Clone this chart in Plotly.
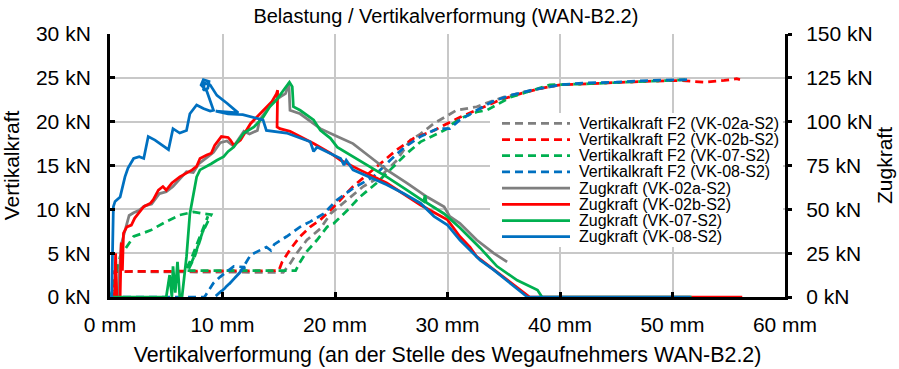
import plotly.graph_objects as go

# ---------------- data ----------------
# Vertikalkraft F2 (left axis, kN) over Vertikalverformung (mm)
f2_02a_x = [0, 0.4, 0.5, 15.4, 16.0, 16.6, 17.5, 18.7, 19.6, 21.1, 22.5, 24.0, 25.5, 26.7, 27.6, 28.8, 30.2, 30.8, 32.6, 33.4, 35.0, 36.5, 38.3, 40.0]
f2_02a_y = [0, 0, 2.9, 2.8, 3.8, 5.0, 6.5, 7.8, 9.5, 11.1, 12.6, 13.7, 15.6, 17.9, 18.6, 19.8, 20.9, 21.3, 21.7, 22.1, 22.8, 23.3, 23.8, 24.2]

f2_02b_x = [0, 0.3, 0.4, 15.0, 15.3, 16.0, 16.9, 17.8, 18.7, 19.9, 21.6, 23.4, 25.5, 27.0, 28.8, 30.0, 31.1, 32.9, 34.7, 36.5, 38.3, 40.0, 41.8, 44.8, 47.7, 50.7, 52.8, 54.6, 55.7, 56.0]
f2_02b_y = [0, 0, 2.9, 3.0, 4.0, 5.4, 6.9, 8.0, 8.8, 10.3, 12.6, 14.5, 16.8, 18.1, 19.0, 19.8, 20.5, 21.5, 22.5, 23.2, 23.8, 24.2, 24.3, 24.4, 24.6, 24.7, 24.5, 24.7, 24.9, 24.8]

f2_07_x = [0, 0.3, 0.9, 2.1, 3.6, 5.0, 6.2, 7.4, 8.3, 9.0, 8.2, 7.6, 7.0, 7.5, 8.7, 7.9, 7.2, 6.7, 16.5, 16.9, 17.5, 18.4, 19.3, 19.9, 21.1, 22.2, 23.7, 24.9, 26.4, 27.6, 29.1, 30.0, 30.5, 31.4, 32.6, 33.5, 35.6, 37.6, 39.1, 42.0, 46.0, 50.0, 51.5]
f2_07_y = [0, 1.0, 4.6, 6.9, 7.6, 8.6, 9.35, 9.7, 9.5, 9.4, 7.3, 5.0, 3.2, 4.5, 9.2, 6.5, 4.3, 3.0, 3.0, 4.0, 5.2, 6.5, 8.0, 8.4, 9.9, 11.4, 13.0, 14.5, 16.4, 17.7, 18.6, 19.2, 19.8, 20.5, 21.1, 21.3, 22.8, 23.6, 24.2, 24.3, 24.5, 24.7, 24.8]

f2_08_x = [0, 8.4, 9.2, 9.8, 11.0, 12.0, 10.6, 9.4, 10.4, 11.6, 12.5, 13.9, 14.3, 14.6, 15.7, 16.9, 17.8, 19.0, 19.6, 20.2, 21.6, 23.4, 24.9, 26.1, 27.6, 29.1, 30.2, 31.1, 32.6, 34.0, 35.6, 37.5, 40.0, 42.0, 45.0, 48.0, 51.6]
f2_08_y = [0, 0, 1.6, 2.3, 3.5, 3.4, 1.5, 0.1, 1.2, 2.9, 4.8, 5.7, 5.3, 6.0, 6.9, 8.0, 8.6, 9.5, 10.3, 11.1, 12.4, 13.7, 15.6, 17.0, 18.3, 19.2, 19.2, 20.2, 21.3, 22.3, 23.0, 23.6, 24.2, 24.4, 24.5, 24.7, 24.8]

# Zugkraft (right axis, kN) over Vertikalverformung (mm)
z_02a_x = [0, 0.7, 1.0, 1.3, 1.7, 2.1, 2.6, 3.1, 3.7, 4.4, 5.0, 5.6, 6.2, 6.8, 7.4, 7.9, 8.6, 9.2, 9.8, 10.4, 11.0, 11.9, 12.4, 13.1, 13.3, 13.9, 14.4, 15.1, 15.6, 15.9, 16.0, 16.9, 18.1, 18.7, 20.2, 21.6, 23.1, 24.6, 26.4, 28.2, 29.7, 30.2, 31.1, 32.6, 34.1, 35.3]
z_02a_y = [0, 0, 30, 37.5, 46.5, 48, 49.5, 52, 53, 59, 60, 63, 67, 71.5, 71, 76, 79.5, 82.5, 88, 89, 86, 94.5, 93, 95, 101, 106.5, 110.5, 114, 116, 122, 106.5, 104.5, 99, 96, 91.5, 87.5, 80, 72.5, 65, 57, 51.5, 46, 42, 32.5, 25, 20]

z_02b_x = [0, 0.4, 0.5, 0.6, 0.9, 1.0, 1.1, 1.2, 1.5, 1.9, 2.2, 2.7, 3.0, 3.6, 3.85, 4.3, 4.7, 5.0, 5.5, 6.2, 6.8, 7.3, 7.7, 8.0, 8.6, 9.0, 9.3, 9.9, 10.5, 10.7, 11.0, 11.6, 12.5, 13.2, 13.8, 14.4, 14.8, 14.9, 14.85, 15.1, 16.0, 16.9, 18.1, 19.6, 20.5, 22.2, 24.6, 27.6, 30.0, 31.1, 32.0, 32.6, 34.1, 35.6, 37.3, 56.2]
z_02b_y = [0, 0, 25, 0, 0, 31, 15, 36.5, 40, 41, 45, 49.5, 51.5, 53.5, 55.5, 61, 63, 61, 65, 68.5, 70.5, 72.5, 74.5, 79, 81, 82, 86.5, 91.5, 91, 89.5, 86.5, 89.5, 99, 103.5, 107.5, 111.5, 116, 118, 97, 96, 94.5, 91.5, 87.5, 82, 78, 72.5, 65, 52.5, 44, 34.5, 28.5, 23, 15.5, 8, 0, 0]

z_07_x = [0, 5.0, 5.3, 5.5, 5.6, 5.8, 6.0, 6.2, 6.4, 6.8, 7.1, 7.4, 7.7, 8.0, 8.6, 9.0, 9.5, 10.1, 10.5, 11.0, 11.9, 12.8, 13.6, 14.2, 14.8, 15.4, 15.95, 16.2, 16.3, 16.9, 18.1, 18.7, 19.6, 20.2, 21.6, 23.1, 24.6, 26.4, 27.9, 28.0, 28.1, 29.7, 31.1, 32.9, 34.4, 36.2, 38.0, 38.4, 51.7]
z_07_y = [0, 0, 12.5, 0, 17.5, 2.5, 20, 0, 0, 23, 47.5, 59, 68.5, 72.5, 74.5, 76, 78, 80, 83, 85.5, 93.5, 97, 102.5, 108.5, 112.5, 118, 122.5, 120, 108.5, 106.5, 101, 95, 90.5, 85.5, 80, 74.5, 68.5, 61, 54.5, 58, 54, 47.5, 39.5, 28, 17.5, 9.5, 4, 0, 0]

z_08_x = [0, 0.15, 0.3, 0.45, 0.9, 1.33, 1.6, 2.1, 2.6, 3.0, 3.4, 4.0, 5.2, 5.6, 6.2, 6.8, 7.1, 7.7, 8.3, 8.9, 9.2, 8.6, 8.1, 8.3, 8.8, 8.7, 8.3, 8.4, 8.9, 9.5, 10.4, 11.4, 9.4, 10.5, 11.8, 12.5, 13.6, 13.9, 15.7, 17.8, 18.1, 18.4, 19.6, 20.5, 20.8, 21.0, 21.6, 23.4, 24.6, 26.1, 27.6, 28.8, 30.0, 31.1, 32.9, 34.1, 35.6, 37.1, 51.6]
z_08_y = [0, 0, 51.5, 54.5, 57, 68.5, 73.5, 79, 80, 79, 91.5, 89.5, 84, 96, 93.5, 95, 104.5, 109.5, 107.5, 106, 106.5, 117.5, 121, 124, 123, 119, 118, 122, 121, 115, 110.5, 105, 106, 104.5, 104, 103, 101, 95, 93.5, 88.5, 83, 85.5, 82, 79, 75.25, 78, 72.5, 67.5, 64, 59, 53.5, 46, 41, 32.5, 21, 15.5, 7.8, 0, 0]

names = ["Vertikalkraft F2 (VK-02a-S2)", "Vertikalkraft F2 (VK-02b-S2)",
         "Vertikalkraft F2 (VK-07-S2)", "Vertikalkraft F2 (VK-08-S2)",
         "Zugkraft (VK-02a-S2)", "Zugkraft (VK-02b-S2)",
         "Zugkraft (VK-07-S2)", "Zugkraft (VK-08-S2)"]
xs = [f2_02a_x, f2_02b_x, f2_07_x, f2_08_x, z_02a_x, z_02b_x, z_07_x, z_08_x]
ys = [f2_02a_y, f2_02b_y, f2_07_y, f2_08_y, z_02a_y, z_02b_y, z_07_y, z_08_y]

x_ticks = [0, 10, 20, 30, 40, 50, 60]
x_labels = ["0 mm", "10 mm", "20 mm", "30 mm", "40 mm", "50 mm", "60 mm"]
y_ticks = [0, 5, 10, 15, 20, 25, 30]
y_labels = ["0 kN", "5 kN", "10 kN", "15 kN", "20 kN", "25 kN", "30 kN"]
y2_ticks = [0, 25, 50, 75, 100, 125, 150]
y2_labels = ["0 kN", "25 kN", "50 kN", "75 kN", "100 kN", "125 kN", "150 kN"]

# ---------------- styling ----------------
colors = ["#7F7F7F", "#FF0000", "#00B050", "#0070C0"] * 2
dashes = ["8px,5px"] * 4 + ["solid"] * 4
axes = ["y"] * 4 + ["y2"] * 4
FONT = "Liberation Sans, Arial, sans-serif"

W, H = 899, 369
ML, MR, MT, MB = 110, 114, 34, 72
PW, PH = W - ML - MR, H - MT - MB


def px(xp):
    return (xp - ML) / PW


def py(yp):
    return (H - MB - yp) / PH


fig = go.Figure()
for i in range(8):
    fig.add_trace(go.Scatter(
        x=xs[i], y=ys[i], name=names[i], mode="lines", yaxis=axes[i],
        line=dict(color=colors[i], width=2.75, dash=dashes[i]),
        showlegend=False,
    ))

# custom legend (white box, line samples, labels)
shapes = [dict(type="rect", xref="paper", yref="paper",
               x0=px(490), x1=px(783), y0=py(247), y1=py(113),
               fillcolor="white", line=dict(width=0), layer="above")]
annotations = []
leg_top, leg_step = 123.3, 16.2
for i in range(8):
    yc = py(leg_top + i * leg_step)
    shapes.append(dict(type="line", xref="paper", yref="paper",
                       x0=px(502), x1=px(570), y0=yc, y1=yc, layer="above",
                       line=dict(color=colors[i], width=2.75,
                                 dash=dashes[i])))
    annotations.append(dict(xref="paper", yref="paper", x=px(577), y=yc,
                            xanchor="left", yanchor="middle", showarrow=False,
                            text=names[i],
                            font=dict(family=FONT, size=16, color="black")))

axis_common = dict(showline=True, linecolor="black", linewidth=3,
                   tickcolor="black", tickwidth=3, zeroline=False,
                   tickfont=dict(family=FONT, size=21, color="black"),
                   automargin=False)

fig.update_layout(
    width=W, height=H,
    margin=dict(l=ML, r=MR, t=MT, b=MB),
    paper_bgcolor="white", plot_bgcolor="white",
    font=dict(family=FONT, color="black"),
    title=dict(text="Belastung / Vertikalverformung (WAN-B2.2)",
               x=0.496, xanchor="center", y=1 - 16 / H, yanchor="middle",
               yref="container",
               font=dict(family=FONT, size=20, color="black")),
    xaxis=dict(range=[0, 60], tickmode="array", tickvals=x_ticks,
               ticktext=x_labels,
               ticks="inside", ticklen=5, ticklabelstandoff=7,
               showgrid=True, gridcolor="#C8C8C8", gridwidth=2,
               title=dict(text="Vertikalverformung (an der Stelle des Wegaufnehmers WAN-B2.2)",
                          standoff=12, font=dict(family=FONT, size=21.4)),
               **axis_common),
    yaxis=dict(range=[0, 30], tickmode="array", tickvals=y_ticks,
               ticktext=y_labels,
               ticks="inside", ticklen=5, ticklabelstandoff=12,
               showgrid=True, gridcolor="#C8C8C8", gridwidth=2,
               title=dict(text="Vertikalkraft", standoff=12,
                          font=dict(family=FONT, size=21)),
               **axis_common),
    yaxis2=dict(range=[0, 150], tickmode="array", tickvals=y2_ticks,
                ticktext=y2_labels,
                overlaying="y", side="right", anchor="x",
                ticks="outside", ticklen=4, ticklabelstandoff=10,
                showgrid=False,
                title=dict(text="Zugkraft", standoff=2,
                           font=dict(family=FONT, size=21)),
                **axis_common),
    shapes=shapes,
    annotations=annotations,
    showlegend=False,
)

fig.write_html("out.html")
